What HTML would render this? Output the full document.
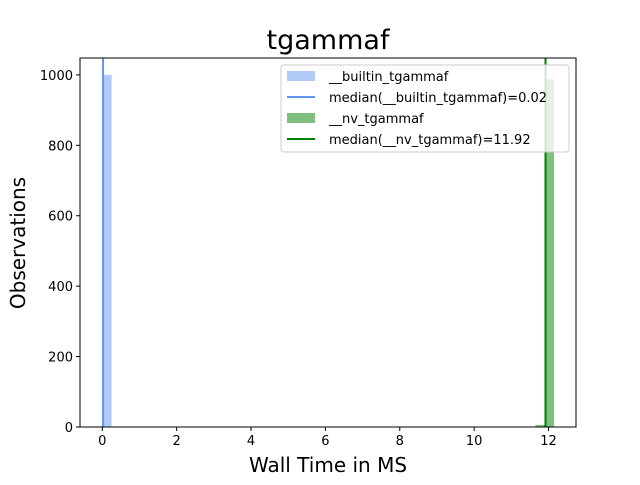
<!DOCTYPE html>
<html><head><meta charset="utf-8"><style>
body{margin:0;background:#fff;font-family:"Liberation Sans","DejaVu Sans",sans-serif}
</style></head><body>
<svg id="chart" width="640" height="480" xmlns="http://www.w3.org/2000/svg" font-family="DejaVu Sans, Liberation Sans, sans-serif">
<rect width="640" height="480" fill="#fff"/>
<text x="328" y="49" font-size="27" text-anchor="middle">tgammaf</text>
<g id="bars"></g>
<g id="axes"></g>
<text x="328" y="472" font-size="20" text-anchor="middle">Wall Time in MS</text>
<text transform="translate(25,243) rotate(-90)" font-size="20" text-anchor="middle">Observations</text>
<g>
<rect x="281" y="65" width="288" height="87" rx="3" fill="#fff" fill-opacity="0.8" stroke="#ccc"/>
<rect x="287" y="71" width="28" height="10" fill="#6495ed" fill-opacity="0.5"/>
<text x="329" y="81" font-size="13">__builtin_tgammaf</text>
<line x1="287" y1="97" x2="315" y2="97" stroke="#6495ed" stroke-width="2"/>
<text x="329" y="102" font-size="13">median(__builtin_tgammaf)=0.02</text>
<rect x="287" y="113" width="28" height="10" fill="#008000" fill-opacity="0.5"/>
<text x="329" y="123" font-size="13">__nv_tgammaf</text>
<line x1="287" y1="139" x2="315" y2="139" stroke="#008000" stroke-width="2"/>
<text x="329" y="144" font-size="13">median(__nv_tgammaf)=11.92</text>
</g>
</svg>
<script>
const builtinBinStarts=[0];
const builtinCounts=[1000];
const nvBinStarts=[11.65,11.9];
const nvCounts=[6,988];
const binWidth=0.25;
const medians=[0.02,11.92];
const xTicks=[0,2,4,6,8,10,12];
const yTicks=[0,200,400,600,800,1000];
const L=80,R=576,T=58,B=427,xmin=-0.6,xmax=12.74,ymax=1048;
const sx=v=>L+(v-xmin)/(xmax-xmin)*(R-L);
const sy=v=>B-v/ymax*(B-T);
const NS="http://www.w3.org/2000/svg";
function mk(tag,attrs,parent){const e=document.createElementNS(NS,tag);for(const k in attrs)e.setAttribute(k,attrs[k]);parent.appendChild(e);return e;}
const bars=document.getElementById('bars'),axes=document.getElementById('axes');
builtinBinStarts.forEach((s,i)=>{const r=mk('rect',{x:sx(s),y:sy(builtinCounts[i]),width:sx(s+binWidth)-sx(s),height:B-sy(builtinCounts[i]),fill:'#6495ed','fill-opacity':0.5},bars);

});
nvBinStarts.forEach((s,i)=>{const r=mk('rect',{x:sx(s),y:sy(nvCounts[i]),width:sx(s+binWidth)-sx(s),height:B-sy(nvCounts[i]),fill:'#008000','fill-opacity':0.5},bars);

});
const colors=['#6495ed','#008000'];
medians.forEach((m,i)=>{const l=mk('line',{x1:sx(m),x2:sx(m),y1:T,y2:B,stroke:colors[i],'stroke-width':2},bars);

});
mk('rect',{x:L,y:T,width:R-L,height:B-T,fill:'none',stroke:'#000','stroke-width':1},axes);
xTicks.forEach(t=>{const x=sx(t);mk('line',{x1:x,x2:x,y1:B,y2:B+4,stroke:'#000'},axes);
const tx=mk('text',{x:x,y:B+18,'font-size':13,'text-anchor':'middle'},axes);tx.textContent=t;

});
yTicks.forEach(t=>{const y=sy(t);mk('line',{x1:L-4,x2:L,y1:y,y2:y,stroke:'#000'},axes);
const tx=mk('text',{x:L-7,y:y+5,'font-size':13,'text-anchor':'end'},axes);tx.textContent=t;

});
</script>
</body></html>
